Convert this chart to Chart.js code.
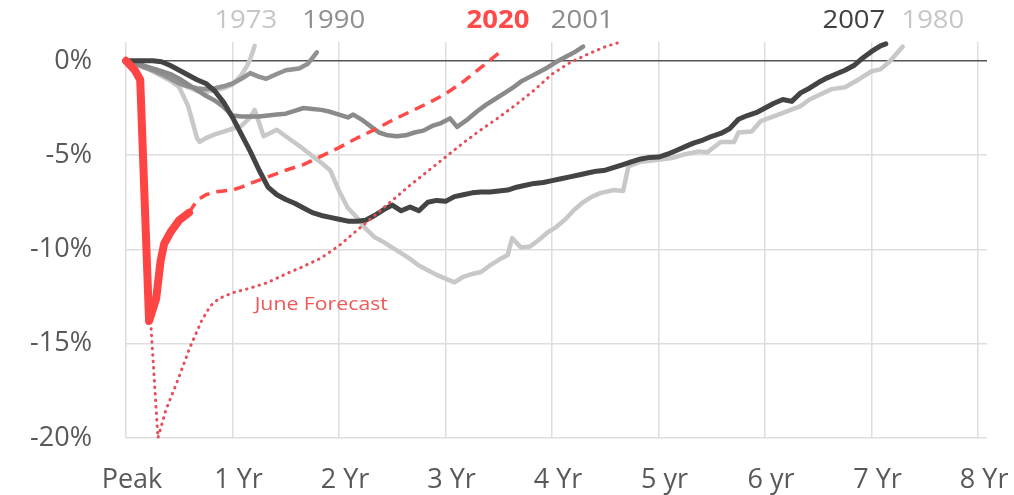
<!DOCTYPE html>
<html>
<head>
<meta charset="utf-8">
<script src="https://cdn.jsdelivr.net/npm/chart.js@4"></script>
<style>
  html, body { margin: 0; padding: 0; background: #fff; }
</style>
</head>
<body>
<canvas id="chart" width="1014" height="495"></canvas>
<script>
// months after peak, % change from peak
var s2020 = [[0,0],[1,-0.5],[1.6,-1.0],[2.6,-13.8],[3.4,-12.6],[3.9,-10.6],[4.3,-9.7],[5,-9.1],[6,-8.45],[7.1,-8.05]];
var s2020fc = [[7.1,-8.05],[8,-7.4],[9,-7.1],[10,-6.95],[11,-6.9],[12,-6.85],[13,-6.7],[14,-6.5],[16,-6.15],[18,-5.8],[20,-5.5],[22,-5.05],[24,-4.6],[26,-4.1],[28,-3.65],[30,-3.15],[32,-2.7],[34,-2.25],[36,-1.75],[38,-1.1],[40,-0.35],[42.5,0.6]];
var sJune = [[0,0],[1,-0.5],[1.6,-1.0],[2.8,-14.0],[3.6,-20.0],[4.5,-18.5],[5.7,-17.1],[7.2,-15.2],[8.5,-13.8],[9.5,-13.0],[10.5,-12.6],[12,-12.3],[14,-12.05],[16,-11.75],[18,-11.3],[20,-10.9],[22,-10.45],[24,-9.8],[26,-9.0],[28,-8.2],[30,-7.4],[32,-6.6],[34,-5.85],[36,-5.1],[38,-4.35],[40,-3.65],[42,-3.0],[44,-2.3],[46,-1.55],[48,-0.7],[50,-0.1],[52,0.35],[54,0.75],[55.7,1.0]];
var s2007 = [[0,0],[1,0],[2,0],[3,0],[4,-0.05],[5,-0.25],[6,-0.5],[7,-0.75],[8,-1.0],[9,-1.2],[10,-1.6],[11,-2.2],[12,-3.0],[13,-3.9],[14,-4.8],[15,-5.8],[16,-6.7],[17,-7.1],[18,-7.35],[19,-7.55],[20,-7.8],[21,-8.05],[22,-8.2],[23,-8.3],[24,-8.4],[25,-8.5],[26,-8.5],[27,-8.45],[28,-8.2],[29,-7.9],[30,-7.65],[31,-7.95],[32,-7.75],[33,-7.95],[34,-7.5],[35,-7.4],[36,-7.45],[37,-7.2],[38,-7.1],[39,-7.0],[40,-6.95],[41,-6.95],[42,-6.9],[43,-6.85],[44,-6.7],[45,-6.6],[46,-6.5],[47,-6.45],[48,-6.35],[49,-6.25],[50,-6.15],[51,-6.05],[52,-5.95],[53,-5.85],[54,-5.8],[55,-5.65],[56,-5.5],[57,-5.35],[58,-5.2],[59,-5.12],[60,-5.1],[61,-4.95],[62,-4.75],[63,-4.55],[64,-4.35],[65,-4.2],[66,-4.0],[67,-3.85],[68,-3.6],[69,-3.1],[70,-2.9],[71,-2.75],[72,-2.5],[73,-2.25],[74,-2.05],[75,-2.15],[76,-1.7],[77,-1.45],[78,-1.15],[79,-0.9],[80,-0.7],[81,-0.5],[82,-0.25],[83,0.15],[84,0.5],[85,0.8],[85.6,0.9]];
var s2001 = [[0,0],[1,-0.1],[2,-0.25],[3,-0.4],[4,-0.55],[5,-0.7],[6,-0.95],[7,-1.25],[8,-1.55],[9,-1.85],[10,-2.1],[11,-2.45],[12,-2.9],[13,-2.95],[14,-2.95],[15,-2.95],[16,-2.9],[17,-2.85],[18,-2.8],[19,-2.65],[20,-2.5],[21,-2.55],[22,-2.6],[23,-2.7],[24,-2.85],[25,-3.0],[25.6,-2.85],[26.5,-3.1],[27.5,-3.45],[28.5,-3.8],[29.5,-3.95],[30.5,-4.0],[31.5,-3.95],[32.5,-3.8],[33.5,-3.7],[34.5,-3.45],[35.5,-3.3],[36.5,-3.05],[37.3,-3.5],[38.5,-3.1],[39.5,-2.7],[40.5,-2.35],[41.5,-2.05],[42.5,-1.75],[43.5,-1.45],[44.5,-1.1],[45.5,-0.85],[46.5,-0.6],[47.5,-0.35],[48.5,-0.05],[49.5,0.2],[50.5,0.45],[51.5,0.75]];
var s1990 = [[0,0],[1,-0.15],[2,-0.35],[3,-0.5],[4,-0.7],[5,-0.95],[6,-1.2],[7,-1.35],[8,-1.45],[9,-1.5],[10,-1.45],[11,-1.35],[12,-1.2],[13,-0.95],[14,-0.65],[15,-0.85],[15.8,-0.95],[17,-0.7],[18,-0.5],[19.5,-0.4],[20.5,-0.15],[21.5,0.45]];
var s1980 = [[0,0],[1,-0.1],[2,-0.3],[3,-0.55],[4,-0.8],[5,-1.05],[6,-1.4],[7,-2.4],[8,-4.1],[8.3,-4.3],[9,-4.1],[10,-3.9],[11,-3.75],[12,-3.6],[13,-3.45],[14,-3.0],[14.5,-2.6],[15,-3.3],[15.5,-4.0],[17,-3.65],[18,-4.0],[19.5,-4.5],[21,-5.05],[22,-5.4],[23,-5.8],[24,-6.9],[25,-7.8],[26,-8.3],[27,-8.9],[28,-9.35],[29,-9.6],[30,-9.9],[31,-10.2],[32,-10.5],[33,-10.85],[34,-11.1],[35,-11.35],[36,-11.55],[37,-11.75],[38,-11.45],[39,-11.3],[40,-11.2],[41,-10.85],[42,-10.55],[43,-10.3],[43.5,-9.4],[44.5,-9.9],[45.5,-9.85],[46.5,-9.5],[47.5,-9.1],[48.5,-8.8],[49.5,-8.4],[50.5,-7.9],[51.5,-7.5],[52.5,-7.2],[53.5,-7.0],[55,-6.85],[56,-6.9],[56.6,-5.6],[58,-5.35],[60,-5.25],[61.5,-5.15],[63,-4.95],[64.5,-4.8],[65.5,-4.85],[67,-4.3],[68.5,-4.3],[69,-3.8],[70.5,-3.75],[71.5,-3.2],[73.5,-2.85],[76,-2.4],[77,-2.05],[79.5,-1.5],[81,-1.4],[82.5,-1.0],[84,-0.55],[85,-0.45],[86,-0.05],[87.5,0.75]];
var s1973 = [[0,0],[1,-0.1],[2,-0.3],[3,-0.5],[4,-0.7],[5,-0.95],[6,-1.2],[7,-1.4],[8,-1.6],[9,-1.65],[10,-1.55],[11,-1.45],[12,-1.25],[13,-0.75],[13.6,-0.3],[14,0.1],[14.5,0.8]];

var xTickLabels = ['Peak', '1 Yr', '2 Yr', '3 Yr', '4 Yr', '5 yr', '6 yr', '7 Yr', '8 Yr'];
var yearLabels = ['1973', '1990', '2020', '2001', '2007', '1980'];
var yearLabelX = [13.5, 23.4, 41.9, 51.4, 82.0, 90.9];
var yearLabelColors = ['#c6c6c6', '#8e8e8e', '#ff4a4a', '#8a8a8a', '#404040', '#c6c6c6'];

var toXY = function(arr) {
    return arr.map(function(p) { return {x: p[0], y: p[1]}; });
};

var mkLine = function(data, color, width, dash, cap) {
    return {
        data: toXY(data),
        borderColor: color,
        borderWidth: width,
        borderDash: dash || [],
        borderCapStyle: cap || 'round',
        borderJoinStyle: 'round',
        pointRadius: 0,
        tension: 0,
        fill: false,
        clip: 10
    };
};

// draw text a bit wider than the font gives, the source picture is stretched
var wideText = function(ctx, txt, x, y, sx) {
    ctx.save();
    ctx.translate(x, y);
    ctx.scale(sx, 1);
    ctx.fillText(txt, 0, 0);
    ctx.restore();
};

var textPlugin = {
    id: 'texts',
    afterDraw: function(chart) {
        var ctx = chart.ctx;
        var xs = chart.scales.x, ys = chart.scales.y;
        ctx.save();
        ctx.textAlign = 'center';
        ctx.textBaseline = 'middle';
        for (let i = 0; i < yearLabels.length; i++) {
            ctx.font = (yearLabels[i] === '2020' ? 'bold ' : '') + '25px "Open Sans"';
            ctx.fillStyle = yearLabelColors[i];
            wideText(ctx, yearLabels[i], xs.getPixelForValue(yearLabelX[i]), 21, 1.1);
        }
        ctx.font = '18px "Open Sans"';
        ctx.fillStyle = '#f05858';
        wideText(ctx, 'June Forecast', xs.getPixelForValue(22), ys.getPixelForValue(-12.95), 1.18);
        ctx.restore();
    }
};

var config = {
    type: 'line',
    data: {
        datasets: [
            mkLine(s2020, '#ff4444', 8),
            mkLine(s2020fc, '#ff4a4a', 3.5, [11, 7], 'butt'),
            mkLine(sJune, '#e64e58', 3, [0.5, 6]),
            mkLine(s2007, '#444444', 5),
            mkLine(s2001, '#8a8a8a', 4.5),
            mkLine(s1990, '#929292', 4.5),
            mkLine(s1980, '#c8c8c8', 4.5),
            mkLine(s1973, '#cacaca', 4.5)
        ]
    },
    options: {
        responsive: false,
        animation: false,
        layout: { autoPadding: false, padding: { top: 42, right: 27, left: 0, bottom: 0 } },
        plugins: { legend: { display: false }, tooltip: { enabled: false } },
        scales: {
            x: {
                type: 'linear',
                min: 0,
                max: 97,
                afterFit: function(s) { s.height = 57; s.paddingLeft = 0; s.paddingRight = 0; },
                grid: { color: '#dedede', lineWidth: 1.5, drawTicks: false },
                border: { display: false },
                ticks: {
                    stepSize: 12,
                    includeBounds: false,
                    autoSkip: false,
                    maxRotation: 0,
                    padding: 26,
                    labelOffset: 6,
                    color: '#595959',
                    font: { family: 'Open Sans', size: 27 },
                    callback: function(v) { return xTickLabels[v / 12]; }
                }
            },
            y: {
                min: -20,
                max: 1,
                afterFit: function(s) { s.width = 126; s.paddingTop = 0; s.paddingBottom = 0; },
                grid: {
                    lineWidth: 1.5,
                    drawTicks: false,
                    color: function(c) { return c.tick && c.tick.value === 0 ? '#555555' : '#dedede'; }
                },
                border: { display: false },
                ticks: {
                    stepSize: 5,
                    includeBounds: false,
                    padding: 34,
                    color: '#595959',
                    font: { family: 'Open Sans', size: 27 },
                    callback: function(v) { return v + '%'; }
                }
            }
        }
    },
    plugins: [textPlugin]
};

var myChart = new Chart(document.getElementById('chart'), config);
</script>
</body>
</html>
